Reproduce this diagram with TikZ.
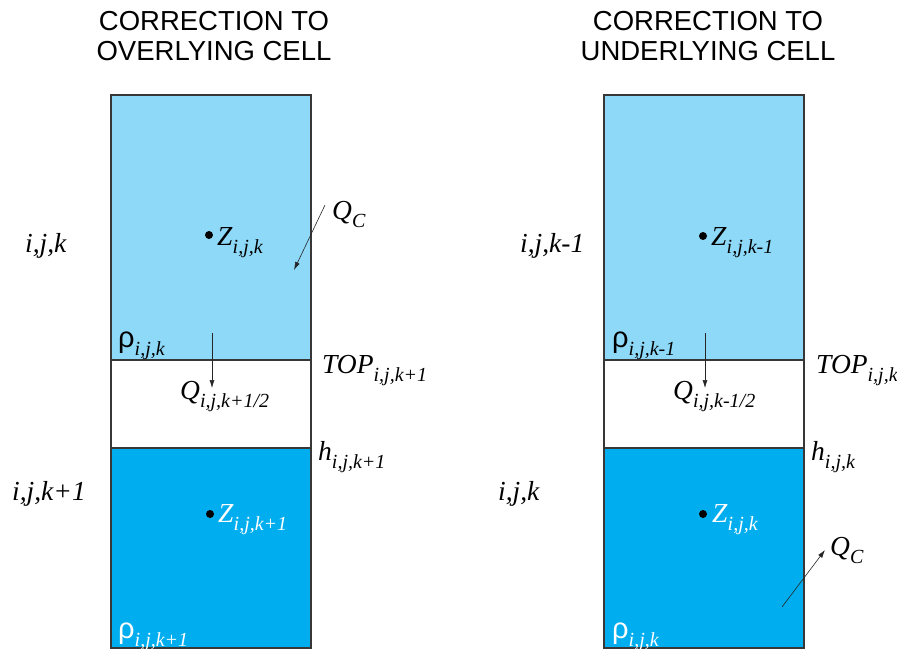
\documentclass[tikz,border=0pt]{standalone}
\usepackage{fontspec}
\setmainfont{Liberation Serif}
\newfontfamily\titlefont{Liberation Sans}
\usetikzlibrary{arrows.meta,positioning}
\definecolor{CELL-LIGHT}{RGB}{142,216,248}
\definecolor{CELL-DARK}{RGB}{0,174,239}
\definecolor{CELL-EDGE}{RGB}{55,55,55}
\newcommand{\lbl}[2]{\textit{#1}\raisebox{-8pt}{\fontsize{20}{20}\selectfont\itshape #2}}
\newcommand{\rholbl}[1]{{\titlefont\fontsize{29}{29}\selectfont ρ}\raisebox{-8pt}{\fontsize{20}{20}\selectfont\itshape #1}}

\begin{document}
\begin{tikzpicture}[x=1pt,y=-1pt,
  txt/.style={inner sep=0pt, font=\fontsize{27.5}{27.5}\selectfont},
  ttl/.style={inner sep=0pt, align=center, font=\titlefont\fontsize{27.5}{30}\selectfont},
  flow/.style={-{Latex[length=8pt,width=5pt]}, line width=0.6pt, black!85}]
  \useasboundingbox (0,0) rectangle (897,654);

  % Left column: correction to overlying cell
  \node[ttl, anchor=base] (ttlL) at (214,60) {CORRECTION TO\\OVERLYING CELL};
  \fill[CELL-LIGHT, draw=CELL-EDGE, line width=1.2pt] (111,95) rectangle (311,360);
  \draw[CELL-EDGE, line width=1.2pt] (111,360) rectangle (311,448);
  \fill[CELL-DARK, draw=CELL-EDGE, line width=1.2pt] (111,448) rectangle (311,648);
  \draw[CELL-EDGE, line width=2pt] (111,360) -- (311,360);

  \node[txt, anchor=base west] (cellL1) at (25,252) {\textit{i,j,k}};
  \node[txt, anchor=base west] (cellL2) at (12,500) {\textit{i,j,k+1}};

  \fill (209,235) circle (4pt);
  \node[txt, anchor=base west] (zL1) at (217,245) {\lbl{Z}{i,j,k}};
  \fill (210,514) circle (4pt);
  \node[txt, anchor=base west, white] (zL2) at (218,522) {\lbl{Z}{i,j,k+1}};

  \node[txt, anchor=base west] (qcL) at (332,219) {\lbl{Q}{C}};
  \coordinate (qcLs) at (325,205);
  \coordinate (qcLe) at (294,270);
  \draw[flow] (qcLs) -- (qcLe);

  \node[txt, anchor=base west] (rhoL1) at (118,347) {\rholbl{i,j,k}};
  \node[txt, anchor=base west, white] (rhoL2) at (118,638) {\rholbl{i,j,k+1}};
  \node[txt, anchor=base west] (topL) at (322,373) {\lbl{TOP}{i,j,k+1}};
  \node[txt, anchor=base west] (hL) at (318,460) {\lbl{h}{i,j,k+1}};
  \node[txt, anchor=base west] (qL) at (180,399) {\lbl{Q}{i,j,k+1/2}};
  \coordinate (qLs) at (212,333);
  \coordinate (qLe) at (212,388);
  \draw[flow] (qLs) -- (qLe);

  % Right column: correction to underlying cell
  \node[ttl, anchor=base] (ttlR) at (708,60) {CORRECTION TO\\UNDERLYING CELL};
  \fill[CELL-LIGHT, draw=CELL-EDGE, line width=1.2pt] (604,95) rectangle (804,360);
  \draw[CELL-EDGE, line width=1.2pt] (604,360) rectangle (804,448);
  \fill[CELL-DARK, draw=CELL-EDGE, line width=1.2pt] (604,448) rectangle (804,648);
  \draw[CELL-EDGE, line width=2pt] (604,360) -- (804,360);

  \node[txt, anchor=base west] (cellR1) at (520,252) {\textit{i,j,k-1}};
  \node[txt, anchor=base west] (cellR2) at (498,500) {\textit{i,j,k}};

  \fill (703,236) circle (4pt);
  \node[txt, anchor=base west] (zR1) at (711,245) {\lbl{Z}{i,j,k-1}};
  \fill (703,514) circle (4pt);
  \node[txt, anchor=base west, white] (zR2) at (712,522) {\lbl{Z}{i,j,k}};

  \node[txt, anchor=base west] (qcR) at (830,555) {\lbl{Q}{C}};
  \coordinate (qcRs) at (782,607);
  \coordinate (qcRe) at (825,550);
  \draw[flow] (qcRs) -- (qcRe);

  \node[txt, anchor=base west] (rhoR1) at (612,347) {\rholbl{i,j,k-1}};
  \node[txt, anchor=base west, white] (rhoR2) at (612,638) {\rholbl{i,j,k}};
  \node[txt, anchor=base west] (topR) at (816,373) {\lbl{TOP}{i,j,k}};
  \node[txt, anchor=base west] (hR) at (811,460) {\lbl{h}{i,j,k}};
  \node[txt, anchor=base west] (qR) at (673,399) {\lbl{Q}{i,j,k-1/2}};
  \coordinate (qRs) at (705,333);
  \coordinate (qRe) at (705,388);
  \draw[flow] (qRs) -- (qRe);
\end{tikzpicture}
\end{document}
